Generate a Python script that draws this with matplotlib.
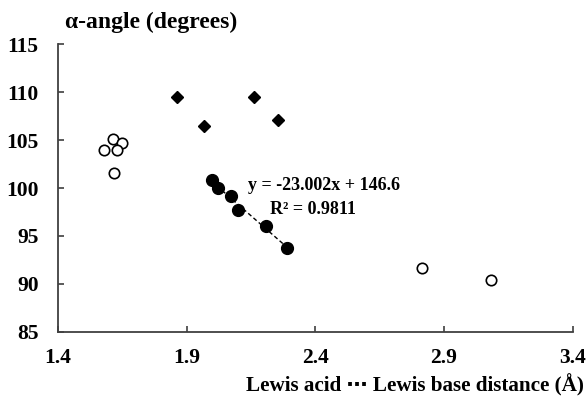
import matplotlib.pyplot as plt
import numpy as np

# open circles (left cluster + two far points)
open_x = [1.579, 1.615, 1.650, 1.628, 1.619, 2.816, 3.083]
open_y = [103.97, 105.08, 104.72, 103.97, 101.6, 91.68, 90.40]

# filled diamonds
diam_x = [1.861, 1.967, 2.163, 2.255]
diam_y = [109.47, 106.47, 109.47, 107.1]

# filled circles with linear trend
fill_x = [1.997, 2.023, 2.071, 2.100, 2.210, 2.288]
fill_y = [100.84, 100.04, 99.20, 97.69, 96.05, 93.75]

xticks = [1.4, 1.9, 2.4, 2.9, 3.4]
yticks = [85, 90, 95, 100, 105, 110, 115]

serif = ['Liberation Serif', 'DejaVu Serif', 'DejaVu Sans']
plt.rcParams['font.family'] = serif
plt.rcParams['font.weight'] = 'bold'

fig = plt.figure(figsize=(5.87, 3.98), dpi=100)
ax = fig.add_axes([58 / 587, 1 - 331.7 / 398, (572.7 - 58) / 587, (331.7 - 44.3) / 398])

coef = np.polyfit(fill_x, fill_y, 1)
xs = np.array([min(fill_x), max(fill_x)])
ax.plot(xs, np.polyval(coef, xs), ls=(0, (3, 2)), color='black', lw=1, zorder=1)

ax.plot(open_x, open_y, 'o', ms=7.5, mfc='white', mec='black', mew=1.2, zorder=3)
ax.plot(diam_x, diam_y, 'D', ms=6, color='black', zorder=3)
ax.plot(fill_x, fill_y, 'o', ms=8.5, color='black', zorder=3)

ax.set_xlim(1.4, 3.4)
ax.set_ylim(85, 115)
ax.set_xticks(xticks)
ax.set_yticks(yticks)
ax.set_xticklabels([f"{v:.1f}" for v in xticks])
ax.set_yticklabels([str(v) for v in yticks])

for s in ['top', 'right']:
    ax.spines[s].set_visible(False)
for s in ['left', 'bottom']:
    ax.spines[s].set_color('#404040')
    ax.spines[s].set_linewidth(1.3)
ax.tick_params(direction='in', length=4, width=1.2, color='#404040', labelsize=15.5)
ax.tick_params(axis='x', pad=12)
ax.tick_params(axis='y', pad=14)
for lab in ax.get_xticklabels() + ax.get_yticklabels():
    lab.set_fontweight('bold')

ax.text(2.138, 100.3, 'y = -23.002x + 146.6', fontsize=13, fontweight='bold', ha='left', va='center')
ax.text(2.224, 97.8, 'R² = 0.9811', fontsize=13, fontweight='bold', ha='left', va='center')

fig.text(65 / 587, 1 - 22 / 398, 'α-angle (degrees)', fontsize=17, fontweight='bold', ha='left', va='center')
fig.text(584 / 587, 1 - 385 / 398, 'Lewis acid ⋯ Lewis base distance (Å)', fontsize=15.2,
         fontweight='bold', ha='right', va='center', family=serif)

fig.savefig('out.png', dpi=100)
